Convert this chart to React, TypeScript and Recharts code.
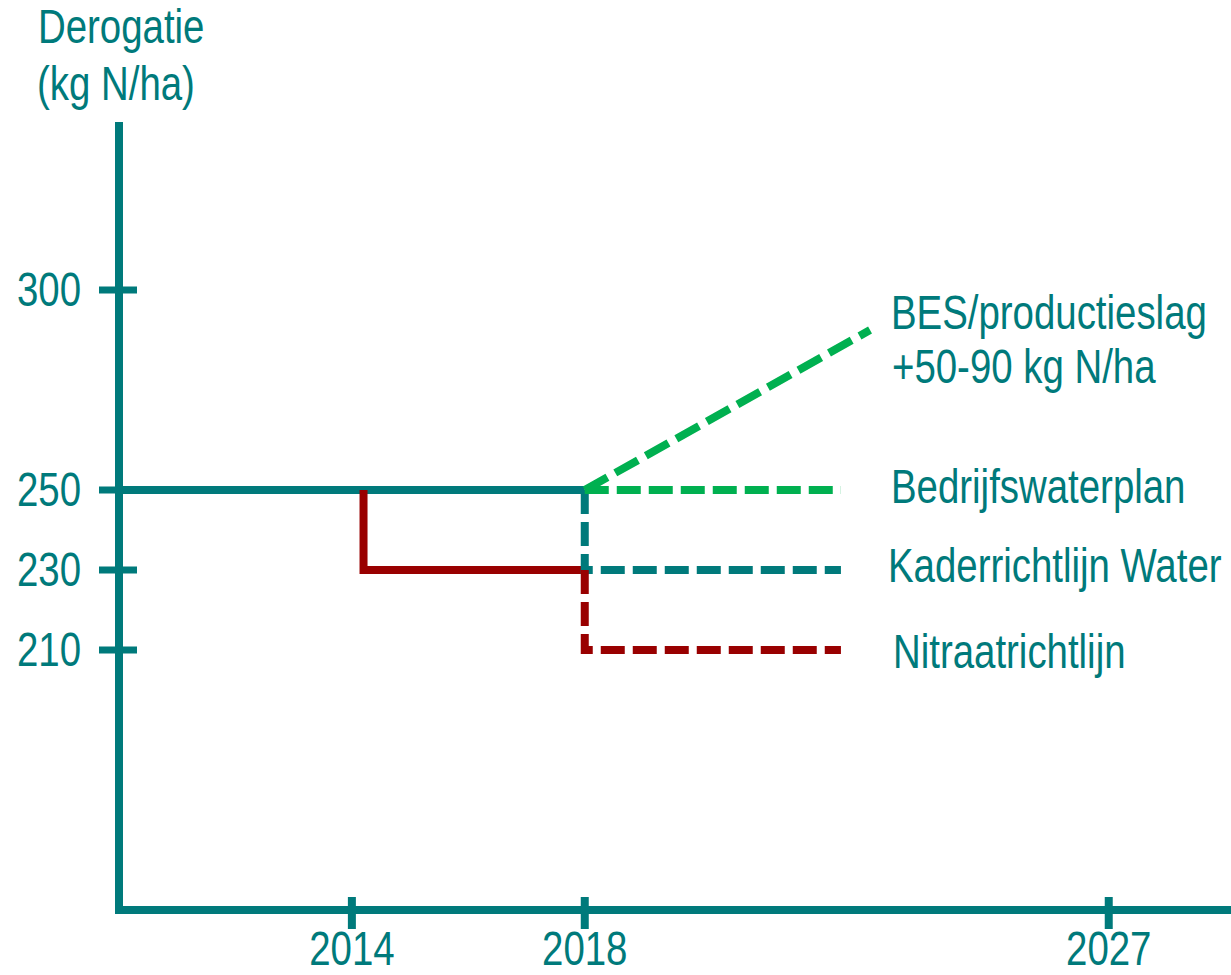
import { Line, LineChart, XAxis, YAxis } from "recharts";

const TEAL = "#007A7B";
const RED = "#990000";
const GREEN = "#00B050";
const FONT = '"Liberation Sans", Arial, sans-serif';

// axis ticks
const yearTicks = [2014, 2018, 2027];
const valueTicks = [210, 230, 250, 300];

// series (year, kg N/ha)
const huidig = [
  { year: 2010, value: 250 },
  { year: 2018, value: 250 },
];
const derogatie2014 = [
  { year: 2014.2, value: 250 },
  { year: 2014.2, value: 230 },
  { year: 2018, value: 230 },
];
const kaderrichtlijn = [
  { year: 2018, value: 250 },
  { year: 2018, value: 230 },
  { year: 2022.4, value: 230 },
];
const nitraatrichtlijn = [
  { year: 2018, value: 230 },
  { year: 2018, value: 210 },
  { year: 2022.4, value: 210 },
];
const bedrijfswaterplan = [
  { year: 2018, value: 250 },
  { year: 2022.4, value: 250 },
];
const productieslag = [
  { year: 2018, value: 250 },
  { year: 2022.9, value: 290 },
];

// condensed look: Liberation Sans squeezed horizontally (like Arial Narrow)
function NarrowText({ x, y, anchor = "start", children }: any) {
  return (
    <text
      transform={`translate(${x} ${y}) scale(0.8 1)`}
      textAnchor={anchor}
      fill={TEAL}
      fontSize={48}
      fontFamily={FONT}
    >
      {children}
    </text>
  );
}

function ValueTick({ x, y, payload }: any) {
  return (
    <g>
      <line x1={x - 20} x2={x + 18} y1={y} y2={y} stroke={TEAL} strokeWidth={7} />
      <NarrowText x={x - 38} y={y + 16} anchor="end">
        {payload.value}
      </NarrowText>
    </g>
  );
}

function YearTick({ x, y, payload }: any) {
  return (
    <g>
      <line x1={x} x2={x} y1={y - 13} y2={y + 19} stroke={TEAL} strokeWidth={8} />
      <NarrowText x={x} y={y + 55} anchor="middle">
        {payload.value}
      </NarrowText>
    </g>
  );
}

const lineProps = {
  type: "linear" as const,
  dataKey: "value",
  dot: false,
  activeDot: false,
  isAnimationActive: false,
  strokeWidth: 8,
  strokeLinecap: "butt" as const,
  strokeLinejoin: "miter" as const,
};

export default function App() {
  return (
    <div style={{ position: "absolute", left: 0, top: 0, width: 1231, height: 975 }}>
      <LineChart width={1231} height={975} margin={{ top: 126, right: 0, bottom: 0, left: 0 }}>
        <XAxis
          type="number"
          dataKey="year"
          domain={[2010, 2029.1]}
          allowDataOverflow
          ticks={yearTicks}
          interval={0}
          height={65}
          tickSize={0}
          tickMargin={0}
          tickLine={false}
          tick={<YearTick />}
          axisLine={{ stroke: TEAL, strokeWidth: 8, strokeLinecap: "square" }}
        />
        <YAxis
          type="number"
          domain={[145, 341]}
          allowDataOverflow
          ticks={valueTicks}
          interval={0}
          width={119}
          tickSize={0}
          tickMargin={0}
          tickLine={false}
          tick={<ValueTick />}
          axisLine={{ stroke: TEAL, strokeWidth: 8, strokeLinecap: "square" }}
        />
        <Line {...lineProps} data={huidig} stroke={TEAL} />
        <Line {...lineProps} data={derogatie2014} stroke={RED} />
        <Line {...lineProps} data={kaderrichtlijn} stroke={TEAL} strokeDasharray="24 8" />
        <Line {...lineProps} data={nitraatrichtlijn} stroke={RED} strokeDasharray="24 8" />
        <Line {...lineProps} data={bedrijfswaterplan} stroke={GREEN} strokeDasharray="24 8" />
        <Line {...lineProps} data={productieslag} stroke={GREEN} strokeDasharray="26 9" />
      </LineChart>
      <svg
        width={1231}
        height={975}
        style={{ position: "absolute", left: 0, top: 0, pointerEvents: "none" }}
      >
        <NarrowText x={38} y={43}>Derogatie</NarrowText>
        <NarrowText x={37} y={100}>(kg N/ha)</NarrowText>
        <NarrowText x={891} y={329}>BES/productieslag</NarrowText>
        <NarrowText x={892} y={383}>+50-90 kg N/ha</NarrowText>
        <NarrowText x={891} y={503}>Bedrijfswaterplan</NarrowText>
        <NarrowText x={888} y={582}>Kaderrichtlijn Water</NarrowText>
        <NarrowText x={893} y={668}>Nitraatrichtlijn</NarrowText>
      </svg>
    </div>
  );
}
